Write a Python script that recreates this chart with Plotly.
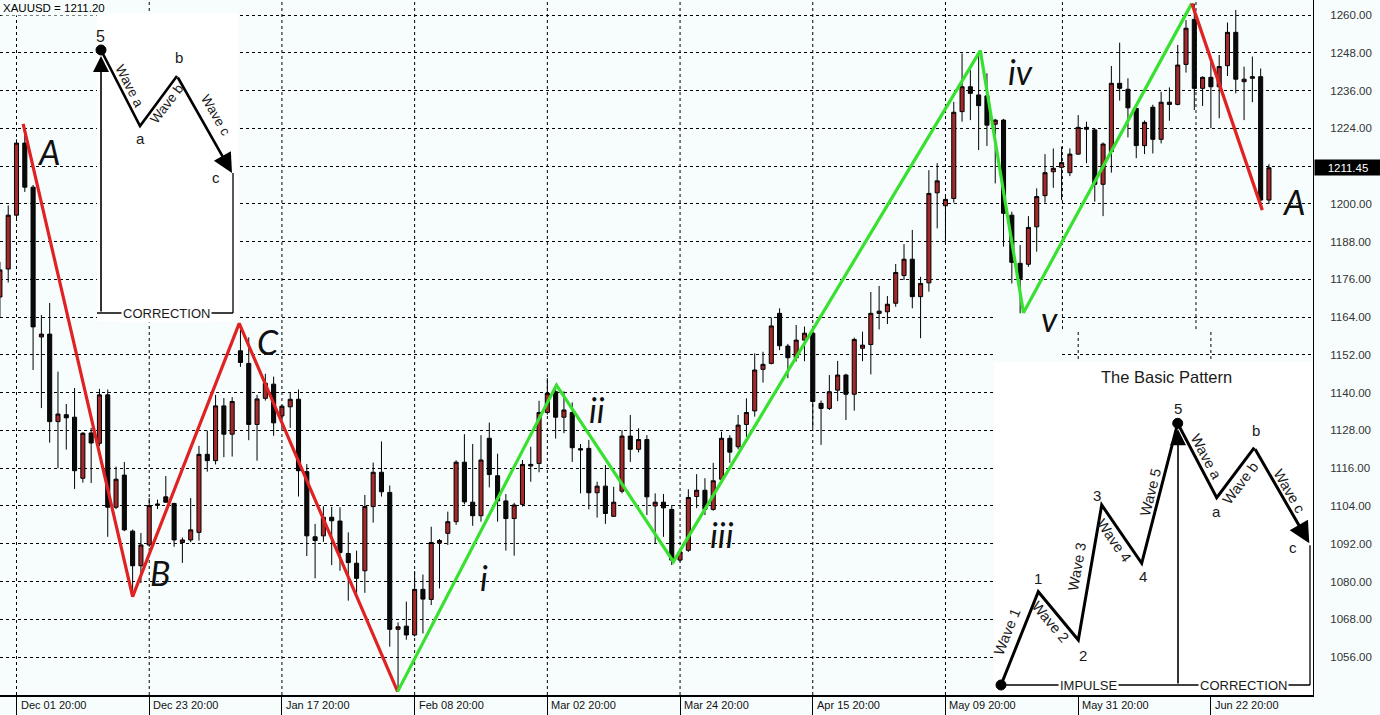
import plotly.graph_objects as go

# ---------------- data (daily XAUUSD bars) ----------------
opens = [1170.4, 1179.3, 1196.4, 1219.3, 1205.3, 1157.7, 1158.6, 1130.8, 1133.0, 1132.2,
         1112.8, 1127.2, 1123.9, 1139.3, 1103.6, 1113.8, 1096.0, 1085.0, 1091.6, 1104.2,
         1106.9, 1104.8, 1092.4, 1093.2, 1095.6, 1120.4, 1118.4, 1135.8, 1126.8, 1153.3,
         1149.3, 1129.9, 1138.2, 1142.7, 1132.6, 1135.5, 1137.9, 1114.9, 1094.2, 1094.5,
         1100.4, 1099.2, 1088.9, 1085.8, 1083.4, 1103.8, 1114.7, 1108.3, 1064.8, 1065.8,
         1063.0, 1077.5, 1074.3, 1092.2, 1095.3, 1099.0, 1117.9, 1105.2, 1100.9, 1125.5,
         1113.6, 1105.6, 1100.0, 1104.5, 1116.7, 1117.5, 1133.7, 1140.3, 1132.2, 1133.7,
         1122.2, 1122.3, 1108.2, 1110.3, 1100.7, 1108.7, 1126.2, 1122.0, 1125.1, 1104.0,
         1105.2, 1102.9, 1086.8, 1089.9, 1107.0, 1109.0, 1102.9, 1112.5, 1125.5, 1122.8,
         1129.9, 1134.2, 1147.4, 1149.3, 1165.2, 1154.8, 1151.1, 1156.7, 1158.9, 1136.6,
         1135.0, 1140.8, 1145.6, 1139.5, 1154.1, 1155.3, 1165.2, 1165.7, 1168.4, 1177.2,
         1182.4, 1170.5, 1174.9, 1203.5, 1199.4, 1201.7, 1229.3, 1237.2, 1234.6, 1234.3,
         1225.3, 1226.6, 1196.4, 1181.1, 1180.8, 1192.7, 1202.6, 1210.2, 1211.6, 1209.9,
         1215.8, 1224.3, 1223.5, 1206.2, 1216.6, 1238.3, 1236.4, 1230.3, 1218.5, 1230.7,
         1220.5, 1231.6, 1231.6, 1244.3, 1258.6, 1236.7, 1240.2, 1237.2, 1243.9, 1254.5,
         1238.8, 1239.9, 1240.4, 1201.2]
highs = [1181.5, 1199.5, 1220.5, 1222.0, 1206.0, 1164.7, 1168.5, 1146.7, 1136.4, 1141.5,
         1127.5, 1128.8, 1141.2, 1141.0, 1116.5, 1118.0, 1096.5, 1095.4, 1106.5, 1106.0,
         1113.5, 1105.0, 1094.0, 1106.5, 1123.1, 1127.9, 1139.3, 1138.3, 1138.6, 1160.0,
         1157.6, 1139.3, 1146.0, 1145.1, 1136.0, 1140.0, 1141.0, 1117.3, 1098.3, 1103.9,
         1103.7, 1103.6, 1095.6, 1089.8, 1107.5, 1117.8, 1124.5, 1110.5, 1067.0, 1073.6,
         1083.3, 1082.2, 1097.4, 1093.5, 1102.2, 1118.5, 1126.8, 1123.7, 1126.5, 1130.5,
         1120.6, 1107.8, 1105.0, 1118.6, 1122.8, 1137.4, 1144.6, 1142.0, 1140.4, 1136.9,
         1123.7, 1125.0, 1111.7, 1117.0, 1110.1, 1128.1, 1132.9, 1128.7, 1126.5, 1108.0,
         1107.8, 1104.3, 1090.0, 1109.3, 1114.1, 1112.8, 1117.7, 1127.6, 1126.5, 1132.9,
         1138.2, 1152.5, 1153.0, 1163.9, 1166.8, 1155.5, 1161.5, 1161.0, 1160.1, 1137.5,
         1145.6, 1150.1, 1146.0, 1157.5, 1159.4, 1172.0, 1173.9, 1170.7, 1180.9, 1187.2,
         1191.7, 1176.8, 1210.7, 1212.9, 1203.0, 1232.4, 1247.8, 1242.5, 1248.0, 1241.5,
         1227.0, 1227.0, 1197.5, 1186.9, 1196.1, 1204.9, 1215.8, 1217.6, 1218.2, 1217.6,
         1228.2, 1226.1, 1224.0, 1219.5, 1243.8, 1251.2, 1239.9, 1231.0, 1226.5, 1231.5,
         1235.6, 1237.0, 1250.5, 1258.4, 1263.6, 1240.5, 1245.2, 1247.3, 1257.6, 1261.6,
         1243.6, 1246.8, 1243.0, 1212.6]
lows = [1163.7, 1175.0, 1195.0, 1203.8, 1147.2, 1135.1, 1124.1, 1116.0, 1121.9, 1109.4,
        1111.4, 1111.3, 1123.0, 1094.2, 1103.0, 1096.0, 1077.0, 1079.5, 1091.0, 1103.0,
        1105.0, 1091.0, 1085.9, 1092.5, 1093.0, 1114.9, 1117.2, 1119.5, 1119.7, 1148.2,
        1124.9, 1118.4, 1137.5, 1126.3, 1128.7, 1128.8, 1107.0, 1088.1, 1081.0, 1092.6,
        1085.2, 1083.4, 1073.9, 1076.4, 1076.4, 1098.7, 1107.0, 1059.3, 1045.0, 1061.5,
        1062.5, 1063.5, 1072.5, 1077.8, 1091.6, 1098.0, 1104.5, 1097.7, 1099.0, 1109.9,
        1099.0, 1089.8, 1088.2, 1103.8, 1111.7, 1114.7, 1133.0, 1125.4, 1127.1, 1118.0,
        1108.0, 1102.9, 1100.3, 1098.3, 1100.5, 1108.0, 1118.0, 1121.0, 1101.1, 1092.1,
        1094.2, 1085.2, 1086.3, 1089.4, 1103.3, 1101.1, 1102.5, 1112.0, 1117.7, 1122.0,
        1126.0, 1132.4, 1143.2, 1149.0, 1153.5, 1144.6, 1149.9, 1150.0, 1128.8, 1123.4,
        1134.5, 1137.3, 1131.3, 1134.3, 1150.0, 1145.8, 1160.1, 1161.8, 1167.3, 1175.8,
        1166.8, 1157.3, 1172.1, 1192.2, 1188.0, 1200.4, 1226.1, 1226.6, 1217.1, 1218.4,
        1206.5, 1186.4, 1174.7, 1165.2, 1180.0, 1184.8, 1200.4, 1205.1, 1201.2, 1208.8,
        1215.5, 1212.9, 1200.7, 1196.1, 1209.9, 1232.8, 1221.1, 1214.5, 1215.8, 1216.0,
        1219.2, 1226.4, 1231.3, 1241.7, 1229.8, 1231.1, 1224.0, 1227.2, 1240.6, 1235.1,
        1226.6, 1232.3, 1199.1, 1200.0]
closes = [1179.0, 1196.4, 1219.3, 1205.3, 1160.9, 1158.6, 1130.8, 1133.2, 1132.0, 1115.2,
          1127.1, 1124.0, 1139.3, 1103.6, 1112.5, 1096.4, 1085.0, 1091.6, 1104.1, 1104.6,
          1105.2, 1093.2, 1093.2, 1096.4, 1120.4, 1118.4, 1135.8, 1126.8, 1137.2, 1149.6,
          1129.9, 1138.0, 1143.0, 1130.4, 1135.7, 1137.9, 1115.2, 1094.5, 1093.0, 1100.4,
          1099.3, 1089.2, 1086.0, 1081.0, 1103.8, 1114.7, 1108.5, 1064.8, 1065.6, 1063.0,
          1077.5, 1074.4, 1092.4, 1093.0, 1099.0, 1117.9, 1105.3, 1100.9, 1118.6, 1114.0,
          1105.6, 1100.0, 1104.3, 1117.2, 1117.2, 1133.7, 1139.8, 1132.2, 1134.5, 1122.5,
          1121.8, 1108.2, 1110.3, 1101.6, 1105.2, 1126.2, 1122.0, 1125.1, 1106.9, 1105.2,
          1103.4, 1086.8, 1089.4, 1106.7, 1109.0, 1102.9, 1112.0, 1125.5, 1121.1, 1129.7,
          1133.7, 1147.2, 1149.0, 1161.2, 1154.9, 1151.1, 1156.7, 1158.9, 1137.2, 1135.0,
          1140.3, 1145.6, 1139.5, 1156.9, 1155.1, 1165.2, 1165.9, 1168.1, 1178.2, 1182.4,
          1170.5, 1174.7, 1203.3, 1207.3, 1201.4, 1229.1, 1237.2, 1235.1, 1231.2, 1225.0,
          1226.6, 1197.0, 1181.4, 1176.3, 1192.5, 1202.3, 1209.9, 1211.3, 1213.1, 1215.8,
          1224.3, 1223.7, 1206.2, 1219.0, 1238.3, 1236.7, 1230.5, 1218.5, 1225.9, 1220.5,
          1232.3, 1232.3, 1244.1, 1255.8, 1236.7, 1240.2, 1237.2, 1243.6, 1254.5, 1239.6,
          1239.6, 1240.4, 1201.2, 1211.45]
bar_index = list(range(len(opens)))

tick_bars = [2, 18, 34, 50, 66, 82, 98, 114, 130, 146]
tick_labels = ["Dec 01 20:00", "Dec 23 20:00", "Jan 17 20:00", "Feb 08 20:00",
               "Mar 02 20:00", "Mar 24 20:00", "Apr 15 20:00", "May 09 20:00",
               "May 31 20:00", "Jun 22 20:00"]
price_ticks = list(range(1056, 1261, 12))
last_price = 1211.45
header_text = "XAUUSD = 1211.20"

# Elliott wave count drawn on the chart (bar position, price)
red_wave1_bar = [2.8, 16.0, 28.85, 47.95]
red_wave1_price = [1225.4, 1075.2, 1162.0, 1045.0]
green_wave_bar = [47.95, 67.1, 81.2, 118.2, 123.4, 143.7]
green_wave_price = [1045.0, 1142.4, 1086.3, 1248.7, 1165.4, 1263.7]
red_wave2_bar = [143.7, 152.2]
red_wave2_price = [1263.7, 1198.0]

wave_labels = ["A", "B", "C", "i", "ii", "iii", "iv", "v", "A"]
wave_label_bar = [5.8, 19.3, 32.3, 58.4, 72.0, 87.05, 123.0, 126.6, 155.9]
wave_label_price = [1216.5, 1082.7, 1156.1, 1081.4, 1134.5, 1094.8, 1241.9, 1163.7, 1200.6]

# the top-right part of the picture is a pasted capture whose grid is offset
chunk_grid_bars = [128.1, 144.2]
chunk_bottom_price = 1160.2
chunk_left_bar = 119.85
# blank area behind the "v" label (no grid there)
v_patch_bars = [119.85, 128.05, 128.05, 119.85, 119.85]
v_patch_prices = [1164.35, 1164.35, 1149.7, 1149.7, 1164.35]

# ---------------- layout constants ----------------
FIG_W, FIG_H = 1380, 715
M_R, M_B = 67, 20
PW, PH = FIG_W - M_R, FIG_H - M_B
X_RANGE = [0.01, 158.31]
Y_RANGE = [1043.93, 1264.77]

BG = "#F7FDFD"
UP_FILL = "#A3292B"
DOWN_FILL = "#0A0A0A"
RED = "#E02222"
GREEN = "#38E030"
FONT = "Liberation Sans"


def px_x(x):
    return x / PW


def px_y(y):
    return 1 - y / PH


def bar_px(b):
    return (b - X_RANGE[0]) / (X_RANGE[1] - X_RANGE[0]) * PW


fig = go.Figure()

fig.add_trace(go.Candlestick(
    x=bar_index, open=opens, high=highs, low=lows, close=closes,
    increasing=dict(line=dict(color="#000000", width=1), fillcolor=UP_FILL),
    decreasing=dict(line=dict(color="#000000", width=1), fillcolor=DOWN_FILL),
    whiskerwidth=0, showlegend=False, hoverinfo="skip"))

fig.add_trace(go.Scatter(x=v_patch_bars, y=v_patch_prices, mode="lines", fill="toself",
                         fillcolor=BG, line=dict(width=0, color=BG),
                         showlegend=False, hoverinfo="skip"))

for xs, ys, col in [(red_wave1_bar, red_wave1_price, RED),
                    (green_wave_bar, green_wave_price, GREEN),
                    (red_wave2_bar, red_wave2_price, RED)]:
    fig.add_trace(go.Scatter(x=xs, y=ys, mode="lines",
                             line=dict(color=col, width=3.2),
                             showlegend=False, hoverinfo="skip"))

shapes = []
annotations = []
GRID_DASH = "3px,3px"

# vertical grid lines (drawn as shapes because the pasted area is offset)
for b in tick_bars:
    top = chunk_bottom_price if bar_px(b) > bar_px(chunk_left_bar) else Y_RANGE[1]
    shapes.append(dict(type="line", xref="x", yref="y", x0=b, x1=b,
                       y0=Y_RANGE[0], y1=top, layer="below",
                       line=dict(color="#000000", width=1, dash=GRID_DASH)))
for b in chunk_grid_bars:
    shapes.append(dict(type="line", xref="x", yref="y", x0=b, x1=b,
                       y0=chunk_bottom_price, y1=Y_RANGE[1], layer="below",
                       line=dict(color="#000000", width=1, dash=GRID_DASH)))

# wave labels on the chart
for t, b, p in zip(wave_labels, wave_label_bar, wave_label_price):
    annotations.append(dict(x=b, y=p, xref="x", yref="y", text=t, showarrow=False,
                            xanchor="center", yanchor="middle",
                            font=dict(family="Lato", size=34, color="#111111", style="italic")))

# x-axis labels, left aligned right of each separator
for b, t in zip(tick_bars, tick_labels):
    annotations.append(dict(x=b, y=-(10 / PH), xref="x", yref="paper", text=t,
                            showarrow=False, xanchor="left", yanchor="middle", xshift=2,
                            font=dict(family=FONT, size=11, color="#111111")))

# header and current price box
annotations.append(dict(x=0, y=1, xref="paper", yref="paper", text=header_text,
                        showarrow=False, xanchor="left", yanchor="top", xshift=1,
                        bgcolor=BG, borderpad=1,
                        font=dict(family=FONT, size=11.5, color="#000000")))
annotations.append(dict(x=1, y=last_price, xref="paper", yref="y",
                        text=f"{last_price:.2f}", showarrow=False, xanchor="left",
                        yanchor="middle", xshift=1, bgcolor="#000000", width=64, height=13,
                        align="center", font=dict(family=FONT, size=11.5, color="#FFFFFF")))

# ---------------- inset diagrams (pixel coordinates inside the plot area) ----------------
ins1_box = [97, 13, 238, 321]
ins1_wave_x = [101, 140, 177]
ins1_wave_y = [50, 126, 76]
ins1_c = [232, 173]
ins1_base_y = 313
ins1_left_x = 101
ins1_right_x = 233
ins1_texts = [("5", 100, 36, 16, 0), ("a", 140, 139, 15, 0), ("b", 179, 58, 15, 0),
              ("c", 216, 177, 15, 0), ("Wave a", 130, 86, 13.5, 63),
              ("Wave b", 166, 104, 13.5, -53), ("Wave c", 215, 115, 13.5, 60),
              ("CORRECTION", 167, 313, 13, 0)]

ins2_box = [994, 362, 1313, 695]
ins2_wave_x = [1001, 1038.3, 1078.3, 1101.7, 1141.7, 1177.7, 1216.7, 1254.3]
ins2_wave_y = [685, 591.7, 640, 505, 563.3, 423.3, 497.7, 447.7]
ins2_c = [1309.3, 543.3]
ins2_base_y = 685
ins2_mid_x = 1178
ins2_right_x = 1310
ins2_texts = [("The Basic Pattern", 1166.7, 376.7, 16.5, 0),
              ("1", 1038.3, 578.3, 15, 0), ("2", 1082.7, 655, 15, 0),
              ("3", 1096.7, 495, 15, 0), ("4", 1142.7, 576.7, 15, 0),
              ("5", 1177.7, 408.3, 15, 0), ("a", 1216.7, 511, 15, 0),
              ("b", 1255.7, 430, 15, 0), ("c", 1292.7, 547.7, 15, 0),
              ("Wave 1", 1007, 632, 14.5, -68), ("Wave 2", 1050.5, 622, 14.5, 50),
              ("Wave 3", 1077, 567, 14.5, -80), ("Wave 4", 1114.5, 540.5, 14.5, 55),
              ("Wave 5", 1150, 492.5, 14.5, -76), ("Wave a", 1206.5, 456.5, 14.5, 62),
              ("Wave b", 1240.5, 483, 14.5, -53), ("Wave c", 1289.5, 490.5, 14.5, 60),
              ("IMPULSE", 1088.3, 685, 13, 0), ("CORRECTION", 1243.3, 685, 13, 0)]


def rect_paper(box, fill):
    return dict(type="rect", xref="paper", yref="paper", x0=px_x(box[0]), x1=px_x(box[2]),
                y0=px_y(box[3]), y1=px_y(box[1]), layer="above", fillcolor=fill,
                line=dict(width=0))


def poly(xs, ys, width):
    path = "M " + " L ".join(f"{px_x(x):.5f},{px_y(y):.5f}" for x, y in zip(xs, ys))
    return dict(type="path", xref="paper", yref="paper", path=path, layer="above",
                line=dict(color="#000000", width=width))


def dot(cx, cy, r):
    return dict(type="circle", xref="paper", yref="paper", x0=px_x(cx - r), x1=px_x(cx + r),
                y0=px_y(cy + r), y1=px_y(cy - r), layer="above", fillcolor="#000000",
                line=dict(color="#000000", width=1))


def arrow(tx, ty, hx, hy, width, size):
    return dict(x=px_x(hx), y=px_y(hy), xref="paper", yref="paper", axref="pixel",
                ayref="pixel", ax=tx - hx, ay=ty - hy, text="", showarrow=True,
                arrowhead=2, arrowsize=size, arrowwidth=width, arrowcolor="#000000",
                standoff=0, startstandoff=0)


def label(t, x, y, size, angle):
    a = dict(x=px_x(x), y=px_y(y), xref="paper", yref="paper", text=t, showarrow=False,
             xanchor="center", yanchor="middle", textangle=angle,
             font=dict(family=FONT, size=size, color="#1A1A1A"), borderpad=1)
    if t in ("CORRECTION", "IMPULSE"):
        a["bgcolor"] = "#FFFFFF"
    return a


# inset 1
shapes.append(rect_paper(ins1_box, "#FFFFFF"))
shapes.append(poly(ins1_wave_x, ins1_wave_y, 2.6))
shapes.append(poly([ins1_right_x, ins1_right_x], [ins1_c[1], ins1_base_y], 1.3))
shapes.append(poly([ins1_box[0], ins1_right_x], [ins1_base_y, ins1_base_y], 1.3))
shapes.append(dot(ins1_wave_x[0], ins1_wave_y[0], 5))
annotations.append(arrow(ins1_wave_x[-1], ins1_wave_y[-1], ins1_c[0], ins1_c[1], 2.6, 1.5))
annotations.append(arrow(ins1_left_x, ins1_base_y, ins1_left_x, ins1_wave_y[0] + 6, 1.6, 2.0))
for t in ins1_texts:
    annotations.append(label(*t))

# inset 2
shapes.append(rect_paper(ins2_box, "#FFFFFF"))
shapes.append(poly(ins2_wave_x, ins2_wave_y, 3))
shapes.append(poly([ins2_right_x, ins2_right_x], [ins2_c[1] + 2, ins2_base_y], 1.3))
shapes.append(poly([ins2_wave_x[0], ins2_right_x], [ins2_base_y, ins2_base_y], 1.3))
shapes.append(dot(ins2_wave_x[0], ins2_wave_y[0], 5))
shapes.append(dot(ins2_wave_x[5], ins2_wave_y[5], 5))
annotations.append(arrow(ins2_wave_x[-1], ins2_wave_y[-1], ins2_c[0], ins2_c[1], 3, 1.4))
annotations.append(arrow(ins2_mid_x, ins2_base_y, ins2_mid_x, ins2_wave_y[5] + 6, 1.6, 2.0))
for t in ins2_texts:
    annotations.append(label(*t))

fig.update_layout(
    width=FIG_W, height=FIG_H,
    margin=dict(l=0, r=M_R, t=0, b=M_B),
    paper_bgcolor=BG, plot_bgcolor=BG,
    showlegend=False, hovermode=False,
    shapes=shapes, annotations=annotations,
    xaxis=dict(range=X_RANGE, rangeslider=dict(visible=False), showgrid=False,
               zeroline=False, tickmode="array", tickvals=tick_bars, showticklabels=False,
               ticks="outside", ticklen=20, tickwidth=1, tickcolor="#000000",
               showline=True, linecolor="#000000", linewidth=2, fixedrange=True),
    yaxis=dict(range=Y_RANGE, side="right", tickmode="array", tickvals=price_ticks,
               ticktext=["" if v == 1212 else f"{v:.2f}" for v in price_ticks],
               showgrid=True, gridcolor="#000000", gridwidth=1, griddash=GRID_DASH,
               zeroline=False, ticks="", ticklabelstandoff=14,
               tickfont=dict(family=FONT, size=11.5, color="#333333"),
               showline=True, linecolor="#000000", linewidth=1, fixedrange=True),
)

fig.write_html("out.html", config={"displayModeBar": False},
               post_script="document.body.style.margin='0';document.body.style.padding='0';"
                           "document.body.style.overflow='hidden';")
